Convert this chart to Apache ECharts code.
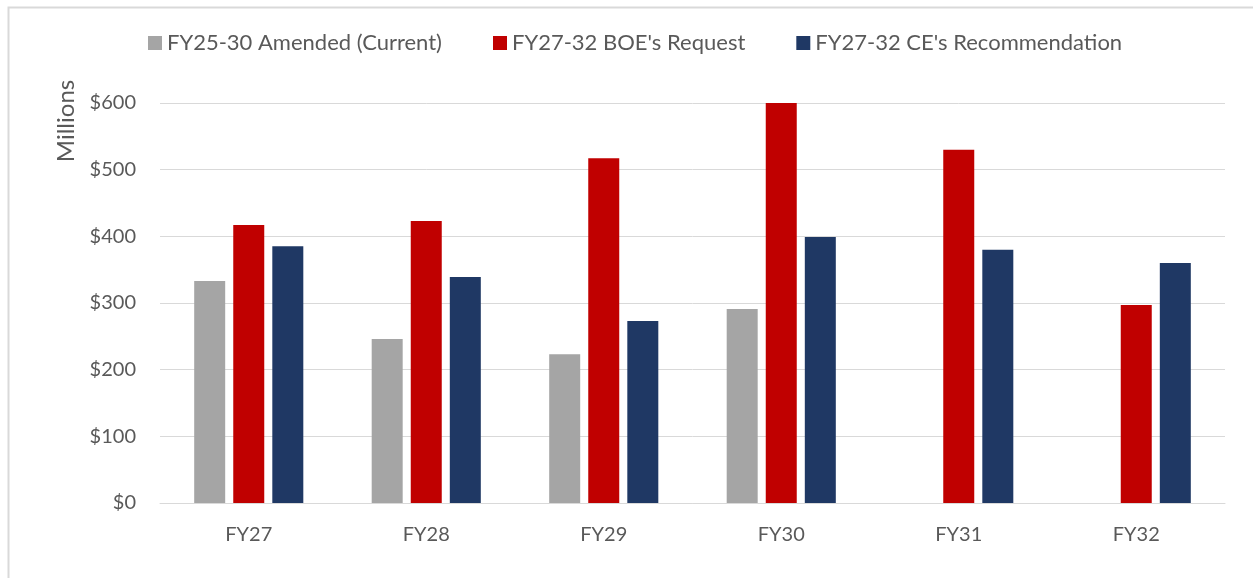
<!DOCTYPE html>
<html>
<head>
<meta charset="utf-8">
<script src="https://cdn.jsdelivr.net/npm/echarts@6/dist/echarts.min.js"></script>
<style>
html,body{margin:0;padding:0;background:#fff;}
#chart{width:1253px;height:578px;}
</style>
</head>
<body>
<div id="chart"></div>
<script>
const categories = ['FY27','FY28','FY29','FY30','FY31','FY32'];
const amendedCurrent = [333, 246, 223, 291, null, null];
const boeRequest = [417, 423, 517, 600, 530, 297];
const ceRecommendation = [385, 339, 273, 399, 380, 360];
const yTicks = [0, 100, 200, 300, 400, 500, 600];

const FONT = 'Lato';
const TXT = '#595959';
const chart = echarts.init(document.getElementById('chart'));
chart.setOption({
  animation: false,
  textStyle: {fontFamily: FONT},
  graphic: [
    {type: 'rect', left: 6, top: 5, shape: {width: 1400, height: 700}, style: {fill: 'none', stroke: '#D9D9D9', lineWidth: 2}, silent: true},
    {type: 'text', x: 66, y: 121, rotation: Math.PI / 2, style: {text: 'Millions', fontFamily: FONT, fontSize: 24, fill: TXT, align: 'center', verticalAlign: 'middle'}}
  ],
  legend: {
    top: 32,
    left: 148,
    padding: 0,
    itemWidth: 14,
    itemHeight: 14,
    itemGap: 51,
    icon: 'rect',
    textStyle: {fontFamily: FONT, fontSize: 22, color: TXT},
    data: ['FY25-30 Amended (Current)', "FY27-32 BOE's Request", "FY27-32 CE's Recommendation"]
  },
  grid: {left: 160, right: 28, top: 103, bottom: 75, containLabel: false},
  xAxis: {
    type: 'category',
    data: categories,
    axisLine: {lineStyle: {color: '#D9D9D9', width: 1}},
    axisTick: {show: false},
    axisLabel: {fontFamily: FONT, fontSize: 20, color: TXT, margin: 22}
  },
  yAxis: {
    type: 'value',
    min: yTicks[0],
    max: yTicks[yTicks.length - 1],
    interval: 100,
    axisLine: {show: false},
    axisTick: {show: false},
    splitLine: {lineStyle: {color: '#D9D9D9', width: 1}},
    axisLabel: {fontFamily: FONT, fontSize: 20, color: TXT, margin: 24, formatter: v => '$' + v}
  },
  series: [
    {name: 'FY25-30 Amended (Current)', type: 'bar', data: amendedCurrent, barWidth: 31, barGap: '26%', itemStyle: {color: '#A5A5A5'}},
    {name: "FY27-32 BOE's Request", type: 'bar', data: boeRequest, barWidth: 31, barGap: '26%', itemStyle: {color: '#C00000'}},
    {name: "FY27-32 CE's Recommendation", type: 'bar', data: ceRecommendation, barWidth: 31, barGap: '26%', itemStyle: {color: '#1F3864'}}
  ]
});
</script>
</body>
</html>
